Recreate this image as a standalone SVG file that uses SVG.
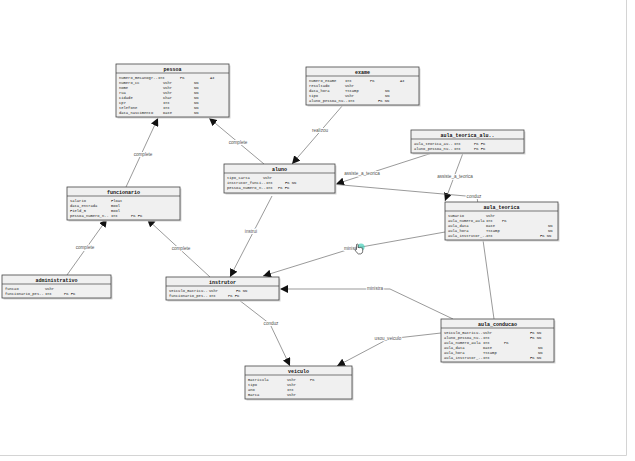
<svg xmlns="http://www.w3.org/2000/svg" width="635" height="461" viewBox="0 0 635 461">
<style>
.box{fill:#f0f0f0;stroke:#444;stroke-width:0.8}
.shadow{fill:#d6d6d6}
.sep{stroke:#444;stroke-width:0.7}
.t{font-family:"Liberation Mono",monospace;font-size:5px;font-weight:bold;fill:#111;text-anchor:middle}
.r{font-family:"Liberation Mono",monospace;font-size:3.8px;fill:#222}
.c{fill:none;stroke:#555;stroke-width:0.6;marker-end:url(#arr)}
.l{font-family:"Liberation Sans",Arial,sans-serif;font-size:4.6px;fill:#555;text-anchor:middle;stroke:#fff;stroke-width:2;paint-order:stroke;stroke-linejoin:round}
</style>
<defs>
<marker id="arr" viewBox="0 0 10 10" refX="10" refY="5" markerWidth="8" markerHeight="8" markerUnits="userSpaceOnUse" orient="auto">
<path d="M0,0 L10,5 L0,10 z" fill="#111"/>
</marker>
</defs>
<rect x="0" y="0" width="635" height="461" fill="#fff"/>
<line x1="0" y1="455.5" x2="626.5" y2="455.5" stroke="#d4d4d4" stroke-width="1"/>
<line x1="626.5" y1="0" x2="626.5" y2="455.5" stroke="#d4d4d4" stroke-width="1"/>

<g id="connectors">
<path class="c" d="M126,187 L158,118"/>
<path class="c" d="M264,164 L209,118"/>
<path class="c" d="M343,105 L292,164"/>
<path class="c" d="M432,153 L336,184"/>
<path class="c" d="M463,153 L445,201"/>
<path class="c" d="M494,319 L477,197 L286,180"/>
<path class="c" d="M445,232 L350,249 L263,276"/>
<path class="c" d="M453,319 L390,289 L280,289"/>
<path class="c" d="M441,333 L388,339 L337,366"/>
<path class="c" d="M239,300 L270,324 L290,366"/>
<path class="c" d="M272,196 L230,277"/>
<path class="c" d="M67,275 L107,219"/>
<path class="c" d="M210,277 L147,219"/>
<text class="l" x="143" y="156">complete</text>
<text class="l" x="238" y="144">complete</text>
<text class="l" x="320" y="132">realizou</text>
<text class="l" x="362" y="175">assiste_a_teorica</text>
<text class="l" x="455" y="178">assiste_a_teorica</text>
<text class="l" x="474" y="198">conduz</text>
<text class="l" x="352" y="250">ministra</text>
<text class="l" x="375" y="290">ministra</text>
<text class="l" x="388" y="340">usou_veiculo</text>
<text class="l" x="271" y="325">conduz</text>
<text class="l" x="251" y="233">instrui</text>
<text class="l" x="85" y="249">complete</text>
<text class="l" x="181" y="250">complete</text>
</g>

<g id="cursor">
<circle cx="361" cy="247" r="3.6" fill="#4fd1bd" opacity="0.75"/>
<path d="M356.5,244.5 q1,-0.8 1.6,0 l0,3.2 q0.8,-0.8 1.6,0 q0.8,-0.7 1.6,0.2 q0.9,-0.5 1.4,0.4 l0,3 q0,2 -2,2.6 l-2.4,0 q-1.200,-0.8 -2.4,-2.6 l-1,-1.6 q0.4,-0.9 1.6,-0.2 z" fill="#fff" stroke="#111" stroke-width="0.6"/>
</g>

<g id="pessoa">
<rect class="shadow" x="117.5" y="65.5" width="113" height="53"/>
<rect class="box" x="116" y="64" width="113" height="53"/>
<line class="sep" x1="116" y1="73" x2="229" y2="73"/>
<text class="t" x="172.5" y="70.5">pessoa</text>
<text class="r" x="119" y="78.5">numero_mecanogr..<tspan x="158">Int</tspan><tspan x="180">PK</tspan><tspan x="210">AI</tspan></text>
<text class="r" x="119" y="83.5">numero_cc<tspan x="163">VChr</tspan><tspan x="194">NN</tspan></text>
<text class="r" x="119" y="88.5">nome<tspan x="163">VChr</tspan><tspan x="194">NN</tspan></text>
<text class="r" x="119" y="93.5">rua<tspan x="163">VChr</tspan><tspan x="194">NN</tspan></text>
<text class="r" x="119" y="98.5">cidade<tspan x="163">Char</tspan><tspan x="194">NN</tspan></text>
<text class="r" x="119" y="103.5">cp7<tspan x="163">Int</tspan><tspan x="194">NN</tspan></text>
<text class="r" x="119" y="108.5">telefone<tspan x="163">Int</tspan><tspan x="194">NN</tspan></text>
<text class="r" x="119" y="113.5">data_nascimento<tspan x="163">Date</tspan><tspan x="194">NN</tspan></text>
</g>

<g id="exame">
<rect class="shadow" x="307.5" y="68.5" width="113" height="38"/>
<rect class="box" x="306" y="67" width="113" height="38"/>
<line class="sep" x1="306" y1="76" x2="419" y2="76"/>
<text class="t" x="362.5" y="73.5">exame</text>
<text class="r" x="309" y="81.5">numero_exame<tspan x="345">Int</tspan><tspan x="370">PK</tspan><tspan x="400">AI</tspan></text>
<text class="r" x="309" y="86.5">resultado<tspan x="345">VChr</tspan></text>
<text class="r" x="309" y="91.5">data_hora<tspan x="345">TStamp</tspan><tspan x="385">NN</tspan></text>
<text class="r" x="309" y="96.5">tipo<tspan x="345">VChr</tspan><tspan x="385">NN</tspan></text>
<text class="r" x="309" y="101.5">aluno_pessoa_nu..<tspan x="348">Int</tspan><tspan x="378">FK NN</tspan></text>
</g>

<g id="aula_teorica_aluno">
<rect class="shadow" x="412.5" y="131.5" width="113" height="23"/>
<rect class="box" x="411" y="130" width="113" height="23"/>
<line class="sep" x1="411" y1="139" x2="524" y2="139"/>
<text class="t" x="467.5" y="136.5">aula_teorica_alu..</text>
<text class="r" x="414" y="144.5">aula_teorica_au..<tspan x="454">Int</tspan><tspan x="474">PK FK</tspan></text>
<text class="r" x="414" y="149.5">aluno_pessoa_nu..<tspan x="454">Int</tspan><tspan x="474">PK FK</tspan></text>
</g>

<g id="aluno">
<rect class="shadow" x="225.5" y="165.5" width="111" height="29"/>
<rect class="box" x="224" y="164" width="111" height="29"/>
<line class="sep" x1="224" y1="173" x2="335" y2="173"/>
<text class="t" x="279.5" y="170.5">aluno</text>
<text class="r" x="227" y="178.5">tipo_carta<tspan x="263">VChr</tspan></text>
<text class="r" x="227" y="183.5">instrutor_funci..<tspan x="266">Int</tspan><tspan x="285">FK NN</tspan></text>
<text class="r" x="227" y="188.5">pessoa_numero_n..<tspan x="266">Int</tspan><tspan x="278">PK FK</tspan></text>
</g>

<g id="funcionario">
<rect class="shadow" x="68.5" y="188.5" width="113" height="33"/>
<rect class="box" x="67" y="187" width="113" height="33"/>
<line class="sep" x1="67" y1="196" x2="180" y2="196"/>
<text class="t" x="123.5" y="193.5">funcionario</text>
<text class="r" x="70" y="201.5">salario<tspan x="111">Float</tspan></text>
<text class="r" x="70" y="206.5">data_entrada<tspan x="111">Bool</tspan></text>
<text class="r" x="70" y="211.5">Field_5<tspan x="111">Bool</tspan></text>
<text class="r" x="70" y="216.5">pessoa_numero_n..<tspan x="111">Int</tspan><tspan x="131">PK FK</tspan></text>
</g>

<g id="aula_teorica">
<rect class="shadow" x="446.5" y="203.5" width="113" height="38"/>
<rect class="box" x="445" y="202" width="113" height="38"/>
<line class="sep" x1="445" y1="211" x2="558" y2="211"/>
<text class="t" x="501.5" y="208.5">aula_teorica</text>
<text class="r" x="448" y="216.5">sumario<tspan x="486">VChr</tspan></text>
<text class="r" x="448" y="221.5">aula_numero_aula<tspan x="486">Int</tspan><tspan x="502">PK</tspan></text>
<text class="r" x="448" y="226.5">aula_data<tspan x="486">Date</tspan><tspan x="548">NN</tspan></text>
<text class="r" x="448" y="231.5">aula_hora<tspan x="486">TStamp</tspan><tspan x="548">NN</tspan></text>
<text class="r" x="448" y="236.5">aula_instrutor_..<tspan x="486">Int</tspan><tspan x="540">FK NN</tspan></text>
</g>

<g id="administrativo">
<rect class="shadow" x="3.5" y="276.5" width="109" height="23"/>
<rect class="box" x="2" y="275" width="109" height="23"/>
<line class="sep" x1="2" y1="284" x2="111" y2="284"/>
<text class="t" x="56.5" y="281.5">administrativo</text>
<text class="r" x="5" y="289.5">funcao<tspan x="45">VChr</tspan></text>
<text class="r" x="5" y="294.5">funcionario_pes..<tspan x="45">Int</tspan><tspan x="64">PK FK</tspan></text>
</g>

<g id="instrutor">
<rect class="shadow" x="167.5" y="278.5" width="113" height="23"/>
<rect class="box" x="166" y="277" width="113" height="23"/>
<line class="sep" x1="166" y1="286" x2="279" y2="286"/>
<text class="t" x="222.5" y="283.5">instrutor</text>
<text class="r" x="169" y="291.5">veiculo_matricu..<tspan x="209">VChr</tspan><tspan x="236">FK NN</tspan></text>
<text class="r" x="169" y="296.5">funcionario_pes..<tspan x="209">Int</tspan><tspan x="228">PK FK</tspan></text>
</g>

<g id="aula_conducao">
<rect class="shadow" x="442.5" y="320.5" width="113" height="43"/>
<rect class="box" x="441" y="319" width="113" height="43"/>
<line class="sep" x1="441" y1="328" x2="554" y2="328"/>
<text class="t" x="497.5" y="325.5">aula_conducao</text>
<text class="r" x="444" y="333.5">veiculo_matricu..<tspan x="483">VChr</tspan><tspan x="530">FK NN</tspan></text>
<text class="r" x="444" y="338.5">aluno_pessoa_nu..<tspan x="483">Int</tspan><tspan x="530">FK NN</tspan></text>
<text class="r" x="444" y="343.5">aula_numero_aula<tspan x="483">Int</tspan><tspan x="504">PK</tspan></text>
<text class="r" x="444" y="348.5">aula_data<tspan x="483">Date</tspan><tspan x="538">NN</tspan></text>
<text class="r" x="444" y="353.5">aula_hora<tspan x="483">TStamp</tspan><tspan x="538">NN</tspan></text>
<text class="r" x="444" y="358.5">aula_instrutor_..<tspan x="483">Int</tspan><tspan x="530">FK NN</tspan></text>
</g>

<g id="veiculo">
<rect class="shadow" x="246.5" y="367.5" width="107" height="33"/>
<rect class="box" x="245" y="366" width="107" height="33"/>
<line class="sep" x1="245" y1="375" x2="352" y2="375"/>
<text class="t" x="298.5" y="372.5">veiculo</text>
<text class="r" x="248" y="380.5">matricula<tspan x="287">VChr</tspan><tspan x="310">PK</tspan></text>
<text class="r" x="248" y="385.5">tipo<tspan x="287">VChr</tspan></text>
<text class="r" x="248" y="390.5">ano<tspan x="287">Int</tspan></text>
<text class="r" x="248" y="395.5">marca<tspan x="287">VChr</tspan></text>
</g>
</svg>
